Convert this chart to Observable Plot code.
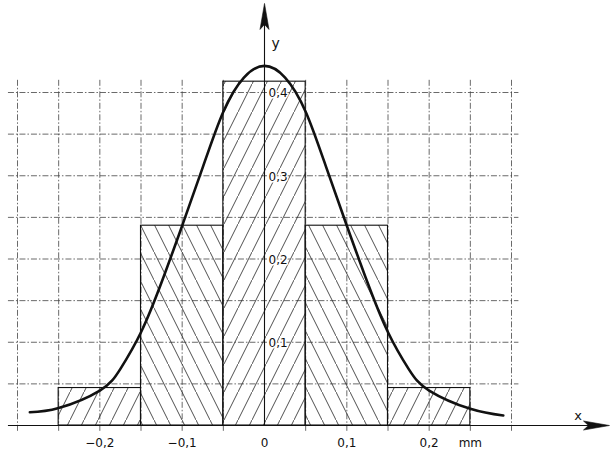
<!DOCTYPE html>
<html>
<head>
<meta charset="utf-8">
<script src="https://cdn.jsdelivr.net/npm/d3@7"></script>
<script src="https://cdn.jsdelivr.net/npm/@observablehq/plot@0.6"></script>
<style>
  html, body { margin: 0; padding: 0; background: #fff; }
  #chart svg { display: block; }
</style>
</head>
<body>
<div id="chart"></div>
<script>
// Histogram bins (mm) and relative frequencies
const binStart = [-0.25, -0.15, -0.05, 0.05, 0.15];
const binEnd   = [-0.15, -0.05, 0.05, 0.15, 0.25];
const freq     = [0.045, 0.24, 0.413, 0.24, 0.045];
const hatch    = ["fwd", "back", "fwd", "back", "fwd"];

// Fitted curve
const curveX = [-0.285, -0.25, -0.2, -0.175, -0.15, -0.125, -0.1, -0.075, -0.05, -0.025, 0, 0.025, 0.05, 0.075, 0.1, 0.125, 0.15, 0.175, 0.2, 0.25, 0.29];
const curveY = [0.016, 0.021, 0.042, 0.068, 0.112, 0.172, 0.24, 0.31, 0.377, 0.418, 0.432, 0.418, 0.377, 0.31, 0.24, 0.172, 0.112, 0.068, 0.042, 0.02, 0.012];

// Grid and tick labels
const gridX = [-0.3, -0.25, -0.2, -0.15, -0.1, -0.05, 0, 0.05, 0.1, 0.15, 0.2, 0.25, 0.3];
const gridY = [0.05, 0.1, 0.15, 0.2, 0.25, 0.3, 0.35, 0.4];
const xTickVals = [-0.2, -0.1, 0, 0.1, 0.2];
const xTickLabels = ["−0,2", "−0,1", "0", "0,1", "0,2"];
const yTickVals = [0.1, 0.2, 0.3, 0.4];
const yTickLabels = ["0,1", "0,2", "0,3", "0,4"];
const unitLabel = "mm";
const xName = "x";
const yName = "y";

const bars = binStart.map((s, i) => ({x1: s, x2: binEnd[i], f: freq[i], h: hatch[i]}));
const curve = curveX.map((x, i) => ({x, y: curveY[i]}));
const xTicks = xTickVals.map((v, i) => ({v, label: xTickLabels[i]}));
const yTicks = yTickVals.map((v, i) => ({v, label: yTickLabels[i]}));

const gridStyle = {stroke: "#444", strokeWidth: 0.8, strokeDasharray: "6,2,1.5,2"};
const font = "DejaVu Sans, sans-serif";

// narrow arrowhead symbol, tip at the origin, pointing up
const arrowHead = {
  draw(ctx) {
    ctx.moveTo(0, 0);
    ctx.lineTo(-4.5, 26);
    ctx.lineTo(0, 21);
    ctx.lineTo(4.5, 26);
    ctx.closePath();
  }
};

const chart = Plot.plot({
  width: 610,
  height: 450,
  marginLeft: 17,
  marginRight: 99,
  marginTop: 92,
  marginBottom: 25,
  x: {domain: [-0.3, 0.3], axis: null},
  y: {domain: [0, 0.4], axis: null},
  style: {background: "#fff", fontFamily: font},
  marks: [
    Plot.ruleX(gridX.filter(d => d !== 0), {x: d => d, y1: -0.007, y2: 0.415, ...gridStyle}),
    Plot.ruleY(gridY, {y: d => d, x1: -0.311, x2: 0.309, ...gridStyle}),
    Plot.rect(bars.filter(d => d.h === "fwd"), {x1: "x1", x2: "x2", y1: 0, y2: "f", fill: "url(#hatchFwd)", stroke: "#111", strokeWidth: 1.1}),
    Plot.rect(bars.filter(d => d.h === "back"), {x1: "x1", x2: "x2", y1: 0, y2: "f", fill: "url(#hatchBack)", stroke: "#111", strokeWidth: 1.1}),
    Plot.line(curve, {x: "x", y: "y", curve: "natural", stroke: "#111", strokeWidth: 2.6}),
    Plot.ruleY([0], {x1: -0.311, x2: 0.41, stroke: "#111", strokeWidth: 1.1}),
    Plot.ruleX([0], {y1: 0, y2: 0.49, stroke: "#111", strokeWidth: 1.1}),
    Plot.dot([0], {x: 0.419, y: 0, symbol: arrowHead, rotate: 90, fill: "#111", stroke: "#111", strokeWidth: 0.6}),
    Plot.dot([0], {x: 0, y: 0.507, symbol: arrowHead, fill: "#111", stroke: "#111", strokeWidth: 0.6}),
    Plot.text(xTicks, {x: "v", y: -0.021, text: "label", fontSize: 12, fill: "#111"}),
    Plot.text([unitLabel], {x: 0.25, y: -0.021, text: d => d, fontSize: 12, fill: "#111"}),
    Plot.text(yTicks, {x: 0, y: "v", dx: 4, dy: 1, text: "label", textAnchor: "start", fontSize: 12, fill: "#111", stroke: "#fff", strokeWidth: 3, paintOrder: "stroke"}),
    Plot.text([xName], {x: 0.381, y: 0.012, text: d => d, fontSize: 13, fill: "#111"}),
    Plot.text([yName], {x: 0.0135, y: 0.459, text: d => d, fontSize: 14, fill: "#111"})
  ]
});

d3.select(chart).insert("defs", ":first-child").html(`
  <pattern id="hatchFwd" patternUnits="userSpaceOnUse" width="14" height="28">
    <path d="M-1,30 L15,-2" stroke="#222" stroke-width="0.8" fill="none"/>
  </pattern>
  <pattern id="hatchBack" patternUnits="userSpaceOnUse" width="14" height="28">
    <path d="M-1,-2 L15,30" stroke="#222" stroke-width="0.8" fill="none"/>
  </pattern>
`);

document.getElementById("chart").appendChild(chart);
</script>
</body>
</html>
